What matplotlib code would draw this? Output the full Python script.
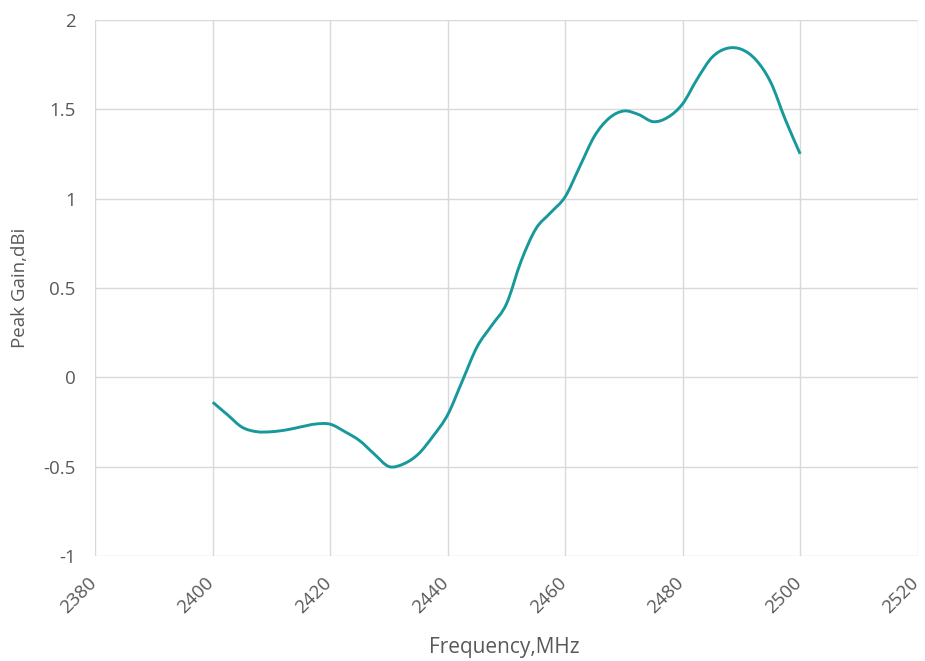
import numpy as np
import matplotlib
matplotlib.use("Agg")
import matplotlib.pyplot as plt
import matplotlib.transforms as trfm
from matplotlib.path import Path
from matplotlib.patches import PathPatch

# Peak gain vs frequency
freq_mhz = [2400, 2402.5, 2405, 2407.5, 2410, 2412.5, 2415, 2417.5, 2420,
            2422.5, 2425, 2427.5, 2430, 2432.5, 2435, 2437.5, 2440, 2442.5,
            2445, 2447.5, 2450, 2452.5, 2455, 2457.5, 2460, 2462.5, 2465,
            2467.5, 2470, 2472.5, 2475, 2477.5, 2480, 2482.5, 2485, 2487.5,
            2490, 2492.5, 2495, 2497.5, 2500]
gain_dbi = [-0.14, -0.21, -0.28, -0.305, -0.305, -0.295, -0.278, -0.262, -0.263,
            -0.305, -0.355, -0.43, -0.50, -0.485, -0.43, -0.33, -0.21, -0.02,
            0.17, 0.29, 0.41, 0.65, 0.83, 0.92, 1.01, 1.18, 1.35,
            1.45, 1.49, 1.47, 1.43, 1.455, 1.53, 1.67, 1.79, 1.84,
            1.835, 1.775, 1.65, 1.44, 1.25]

x_ticks = [2380, 2400, 2420, 2440, 2460, 2480, 2500, 2520]
y_ticks = [-1, -0.5, 0, 0.5, 1, 1.5, 2]
y_labels = ["-1", "-0.5", "0", "0.5", "1", "1.5", "2"]

plt.rcParams["font.family"] = ["Open Sans", "DejaVu Sans"]
text_grey = "#595959"


def smooth_path(xs, ys):
    # Excel-like smoothed line: cubic Bezier segments through every point
    pts = np.column_stack([xs, ys]).astype(float)
    n = len(pts)
    verts = [pts[0]]
    codes = [Path.MOVETO]
    for i in range(n - 1):
        p0 = pts[max(i - 1, 0)]
        p1 = pts[i]
        p2 = pts[i + 1]
        p3 = pts[min(i + 2, n - 1)]
        c1 = p1 + (p2 - p0) / 6.0
        c2 = p2 - (p3 - p1) / 6.0
        verts += [c1, c2, p2]
        codes += [Path.CURVE4] * 3
    return Path(verts, codes)


fig = plt.figure(figsize=(9.25, 6.61), dpi=100)
ax = fig.add_axes([0.103, 0.159, 0.889, 0.811])

curve = PathPatch(smooth_path(freq_mhz, gain_dbi), fill=False,
                  edgecolor="#17999c", linewidth=2.1, capstyle="butt",
                  joinstyle="round", zorder=3)
ax.add_patch(curve)

ax.set_xlim(2380, 2520)
ax.set_ylim(-1, 2)
ax.set_xticks(x_ticks)
ax.set_yticks(y_ticks)
ax.set_yticklabels(y_labels)
ax.set_xticklabels([str(t) for t in x_ticks], rotation=45, ha="right",
                   rotation_mode="anchor")

ax.grid(True, color="#d9d9d9", linewidth=1.0)
ax.set_axisbelow(True)
for side in ["top", "right", "left", "bottom"]:
    ax.spines[side].set_visible(False)

ax.tick_params(axis="both", length=0, labelsize=13.5, labelcolor=text_grey)
ax.tick_params(axis="y", pad=14)
ax.tick_params(axis="x", pad=13)

# nudge the rotated tick labels a little to the left
shift = trfm.ScaledTranslation(-8 / 100, 0, fig.dpi_scale_trans)
for lbl in ax.get_xticklabels():
    lbl.set_transform(lbl.get_transform() + shift)

ax.set_xlabel("Frequency,MHz", fontsize=15, color=text_grey)
ax.set_ylabel("Peak Gain,dBi", fontsize=13.5, color=text_grey)
ax.xaxis.set_label_coords(0.498, -0.152)
ax.yaxis.set_label_coords(-0.08, 0.5)

fig.savefig("out.png", dpi=100)
